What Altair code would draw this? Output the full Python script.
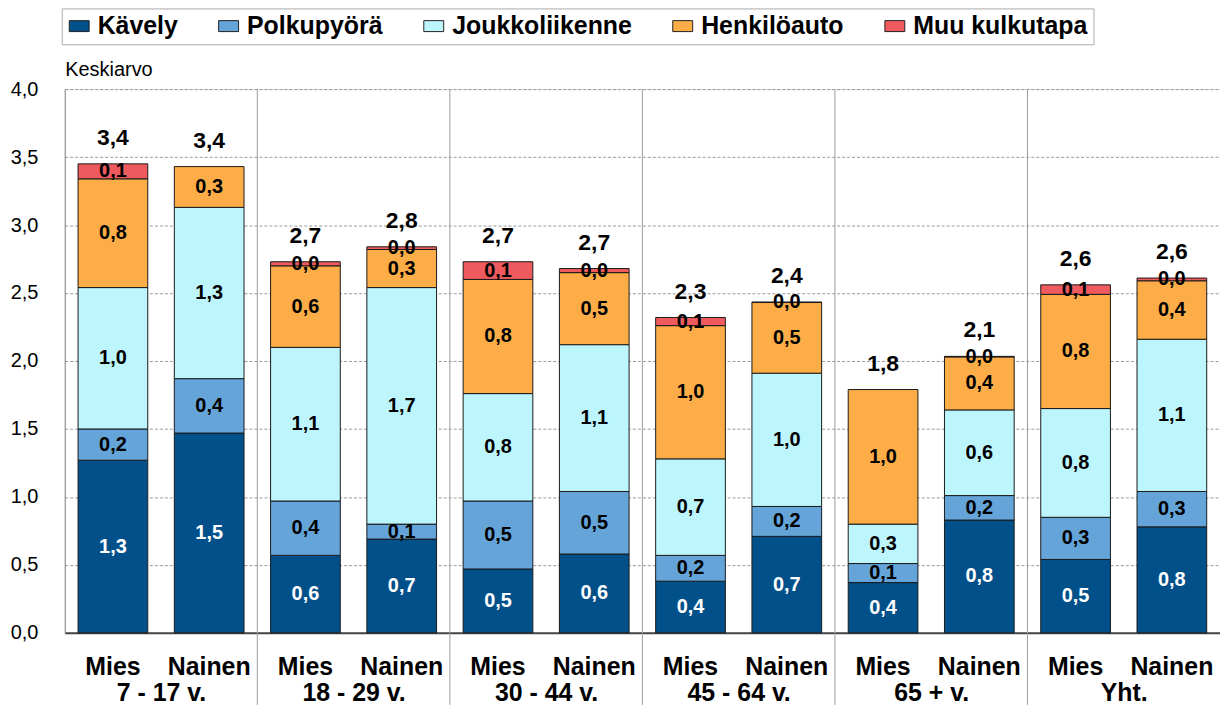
import json
import altair as alt
import pandas as pd

# ---------------- data ----------------
groups = ["7 - 17 v.", "18 - 29 v.", "30 - 44 v.", "45 - 64 v.", "65 + v.", "Yht."]
sexes = ["Mies", "Nainen"]
modes = ["Kävely", "Polkupyörä", "Joukkoliikenne", "Henkilöauto", "Muu kulkutapa"]
colors = ["#02508a", "#64a4d9", "#bdf5fd", "#fcad47", "#ef5a5e"]

# order of bars: for each age group Mies, Nainen
kavely = [1.27, 1.47, 0.57, 0.69, 0.47, 0.58, 0.38, 0.71, 0.37, 0.83, 0.54, 0.78]
polku  = [0.23, 0.40, 0.40, 0.11, 0.50, 0.46, 0.19, 0.22, 0.14, 0.18, 0.31, 0.26]
joukko = [1.04, 1.26, 1.13, 1.74, 0.79, 1.08, 0.71, 0.98, 0.29, 0.63, 0.80, 1.12]
auto   = [0.80, 0.30, 0.60, 0.28, 0.84, 0.53, 0.98, 0.52, 0.99, 0.39, 0.84, 0.43]
muu    = [0.11, None, 0.03, 0.02, 0.13, 0.03, 0.06, 0.004, None, 0.004, 0.07, 0.02]
totals = [3.4, 3.4, 2.7, 2.8, 2.7, 2.7, 2.3, 2.4, 1.8, 2.1, 2.6, 2.6]

y_ticks = [0, 0.5, 1.0, 1.5, 2.0, 2.5, 3.0, 3.5, 4.0]
group_centers = [0.5, 1.5, 2.5, 3.5, 4.5, 5.5]
group_bounds = [1, 2, 3, 4, 5]

# ---------------- tables ----------------
bars = [f"{g}|{s}" for g in groups for s in sexes]
series = [kavely, polku, joukko, auto, muu]
rows = []
for mi, (m, vals) in enumerate(zip(modes, series)):
    for b, v in zip(bars, vals):
        if v is not None:
            rows.append({"bar": b, "mode": m, "ord": mi, "value": v})
df = pd.DataFrame(rows)

tops = df.groupby("bar")["value"].sum().reindex(bars).values
tot_df = pd.DataFrame({"bar": bars, "total": totals, "top": tops})
sep_df = pd.DataFrame({"b": group_bounds})

F = "Liberation Sans, Arial, sans-serif"
COMMA = "replace(format(datum.value, '.1f'), '.', ',')"

x_scale = alt.Scale(paddingInner=0.276, paddingOuter=0.138)
x_axis = alt.Axis(
    orient="bottom", title=None, labelExpr="split(datum.value, '|')[1]", labelAngle=0,
    labelFont=F, labelFontSize=25, labelFontWeight="bold", labelColor="black",
    labelPadding=34, labelBaseline="middle", ticks=False, tickSize=0,
    domainColor="#444444", domainWidth=2, grid=False, labelOverlap=False,
)

# ---------------- layers ----------------
sep = alt.Chart(sep_df).mark_rule(color="#9c9c9c", strokeWidth=1).encode(
    x=alt.X(
        "b:Q",
        scale=alt.Scale(domain=[0, 6], nice=False, zero=False),
        axis=alt.Axis(
            orient="bottom", values=group_centers, title=None,
            labelExpr=json.dumps(groups) + "[floor(datum.value)]",
            domain=False, ticks=False, tickSize=0, grid=False,
            labelPadding=60, labelBaseline="middle", labelFont=F,
            labelFontSize=25, labelFontWeight="bold", labelColor="black",
            labelFlush=False, labelOverlap=False, labelAngle=0,
        ),
    ),
    y=alt.datum(4.0),
    y2=alt.datum(-0.53),
)

bar_layer = alt.Chart(df).mark_bar(stroke="#1a1a1a", strokeWidth=1).encode(
    x=alt.X("bar:N", sort=bars, scale=x_scale, axis=x_axis),
    y=alt.Y(
        "value:Q", stack="zero",
        scale=alt.Scale(domain=[0, 4], nice=False),
        axis=alt.Axis(
            title="Keskiarvo", values=y_ticks, labelExpr=COMMA,
            labelFont=F, labelFontSize=20, labelColor="black", labelPadding=27,
            ticks=False, tickSize=0, domainColor="#888888", domainWidth=1,
            grid=True, gridColor="#9a9a9a", gridDash=[3, 2], gridWidth=1,
            titleAngle=0, titleAlign="left", titleBaseline="alphabetic",
            titleX=0, titleY=-14, titleFont=F, titleFontSize=20,
            titleFontWeight="normal", titleColor="black",
        ),
    ),
    color=alt.Color(
        "mode:N",
        scale=alt.Scale(domain=modes, range=colors),
        legend=alt.Legend(
            title=None, orient="none", legendX=-3, legendY=-81,
            direction="horizontal",
            symbolType="M-1,-0.55H1V0.55H-1Z", symbolSize=400,
            symbolStrokeColor="#222222", symbolStrokeWidth=1, symbolOpacity=1,
            labelFont=F, labelFontSize=25, labelFontWeight="bold", labelColor="black",
            labelOffset=6, labelLimit=400, columnPadding=38, padding=5,
            strokeColor="#aaaaaa", fillColor="white",
        ),
    ),
    order=alt.Order("ord:Q"),
)

seg_base = alt.Chart(df).transform_window(
    cum="sum(value)", groupby=["bar"], sort=[alt.SortField("ord")], frame=[None, 0]
).transform_calculate(
    mid="datum.cum - datum.value / 2",
    lbl=COMMA,
)

seg_white = seg_base.transform_filter("datum.ord == 0").mark_text(
    font=F, fontSize=20, fontWeight="bold", baseline="middle", color="white"
).encode(
    x=alt.X("bar:N", sort=bars, scale=x_scale, axis=x_axis),
    y=alt.Y("mid:Q"),
    text="lbl:N",
)

seg_black = seg_base.transform_filter("datum.ord > 0").mark_text(
    font=F, fontSize=20, fontWeight="bold", baseline="middle", color="black"
).encode(
    x=alt.X("bar:N", sort=bars, scale=x_scale, axis=x_axis),
    y=alt.Y("mid:Q"),
    text="lbl:N",
)

tot_text = alt.Chart(tot_df).transform_calculate(
    lbl="replace(format(datum.total, '.1f'), '.', ',')"
).mark_text(
    font=F, fontSize=23, fontWeight="bold", baseline="middle", color="black", dy=-26
).encode(
    x=alt.X("bar:N", sort=bars, scale=x_scale, axis=x_axis),
    y=alt.Y("top:Q"),
    text="lbl:N",
)

inner = alt.layer(bar_layer, seg_white, seg_black, tot_text)

chart = alt.layer(sep, inner).resolve_scale(x="independent").properties(
    width=1160,
    height=546,
    autosize=alt.AutoSizeParams(type="none"),
    padding={"left": 57, "top": 80, "right": 0, "bottom": 72},
).configure_view(stroke=None).configure(font=F)

chart.save("out.html", embed_options={"renderer": "svg", "actions": False})
